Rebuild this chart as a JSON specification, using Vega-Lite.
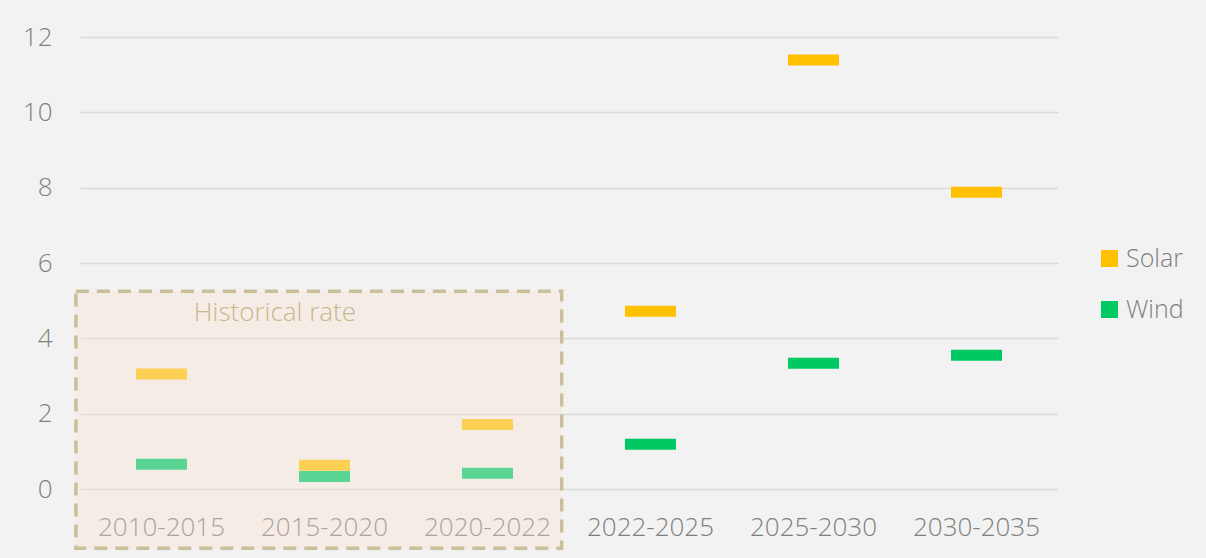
{
  "$schema": "https://vega.github.io/schema/vega-lite/v6.json",
  "autosize": {"type": "none"},
  "padding": {"left": 80, "top": 37, "right": 148, "bottom": 69},
  "width": 978,
  "height": 452,
  "background": "#f2f2f2",
  "config": {
    "view": {"stroke": null},
    "font": "Open Sans",
    "axis": {"labelFont": "Open Sans", "labelFontWeight": 300},
    "legend": {"labelFont": "Open Sans", "labelFontWeight": 300}
  },
  "datasets": {
    "box": [{"x": -0.025, "x2": 2.955, "y": 5.25, "y2": -1.57, "label": "Historical rate", "tx": 1.196, "ty": 4.68}],
    "rates": [
      {"period": "2010-2015", "tech": "Solar", "value": 3.05, "phase": "historical"},
      {"period": "2010-2015", "tech": "Wind", "value": 0.66, "phase": "historical"},
      {"period": "2015-2020", "tech": "Solar", "value": 0.63, "phase": "historical"},
      {"period": "2015-2020", "tech": "Wind", "value": 0.33, "phase": "historical"},
      {"period": "2020-2022", "tech": "Solar", "value": 1.71, "phase": "historical"},
      {"period": "2020-2022", "tech": "Wind", "value": 0.42, "phase": "historical"},
      {"period": "2022-2025", "tech": "Solar", "value": 4.72, "phase": "projected"},
      {"period": "2022-2025", "tech": "Wind", "value": 1.19, "phase": "projected"},
      {"period": "2025-2030", "tech": "Solar", "value": 11.39, "phase": "projected"},
      {"period": "2025-2030", "tech": "Wind", "value": 3.34, "phase": "projected"},
      {"period": "2030-2035", "tech": "Solar", "value": 7.88, "phase": "projected"},
      {"period": "2030-2035", "tech": "Wind", "value": 3.55, "phase": "projected"}
    ]
  },
  "resolve": {"scale": {"x": "independent"}},
  "layer": [
    {
      "data": {"name": "box"},
      "mark": {"type": "rect", "fill": "#fbe5d6", "fillOpacity": 0.45, "stroke": "#c9bf99", "strokeWidth": 3.5, "strokeDash": [13, 8]},
      "encoding": {
        "x": {"field": "x", "type": "quantitative", "scale": {"domain": [0, 6], "nice": false, "zero": false}, "axis": null},
        "x2": {"field": "x2"},
        "y": {
          "field": "y", "type": "quantitative", "scale": {"domain": [0, 12], "nice": false},
          "axis": {
            "title": null, "values": [0, 2, 4, 6, 8, 10, 12], "domain": false, "ticks": false,
            "grid": true, "gridColor": "#d9d9d9", "gridWidth": 1.5,
            "labelFontSize": 26, "labelColor": "#7f7f7f", "labelPadding": 28
          }
        },
        "y2": {"field": "y2"}
      }
    },
    {
      "data": {"name": "box"},
      "mark": {"type": "text", "fontSize": 26, "fontWeight": 300, "color": "#c4b88f", "align": "center", "baseline": "middle"},
      "encoding": {
        "x": {"field": "tx", "type": "quantitative", "scale": {"domain": [0, 6], "nice": false, "zero": false}, "axis": null},
        "y": {
          "field": "ty", "type": "quantitative",
          "axis": {
            "title": null, "values": [0, 2, 4, 6, 8, 10, 12], "domain": false, "ticks": false,
            "grid": true, "gridColor": "#d9d9d9", "gridWidth": 1.5,
            "labelFontSize": 26, "labelColor": "#7f7f7f", "labelPadding": 28
          }
        },
        "text": {"field": "label"}
      }
    },
    {
      "data": {"name": "rates"},
      "mark": {"type": "tick", "size": 51, "thickness": 11},
      "encoding": {
        "x": {
          "field": "period", "type": "nominal",
          "sort": ["2010-2015", "2015-2020", "2020-2022", "2022-2025", "2025-2030", "2030-2035"],
          "scale": {"paddingInner": 0, "paddingOuter": 0},
          "axis": {
            "title": null, "labelAngle": 0, "domain": false, "ticks": false, "grid": false,
            "labelFontSize": 26, "labelPadding": 25, "zindex": 1,
            "labelColor": {"expr": "indexof(['2010-2015','2015-2020','2020-2022'], datum.value) >= 0 ? '#aca39a' : '#7f7f7f'"}
          }
        },
        "y": {
          "field": "value", "type": "quantitative",
          "scale": {"domain": [0, 12], "nice": false},
          "axis": {
            "title": null, "values": [0, 2, 4, 6, 8, 10, 12], "domain": false, "ticks": false,
            "grid": true, "gridColor": "#d9d9d9", "gridWidth": 1.5,
            "labelFontSize": 26, "labelColor": "#7f7f7f", "labelPadding": 28
          }
        },
        "color": {
          "field": "tech", "type": "nominal",
          "scale": {"domain": ["Solar", "Wind"], "range": ["#ffc000", "#00c862"]},
          "legend": {
            "title": null, "orient": "none", "legendX": 1017, "legendY": 209,
            "symbolType": "square", "symbolSize": 289, "symbolOpacity": 1,
            "labelFontSize": 25, "labelColor": "#7f7f7f", "labelOffset": 4,
            "rowPadding": 25
          }
        },
        "opacity": {
          "field": "phase", "type": "nominal",
          "scale": {"domain": ["historical", "projected"], "range": [0.63, 1]},
          "legend": null
        }
      }
    }
  ]
}
